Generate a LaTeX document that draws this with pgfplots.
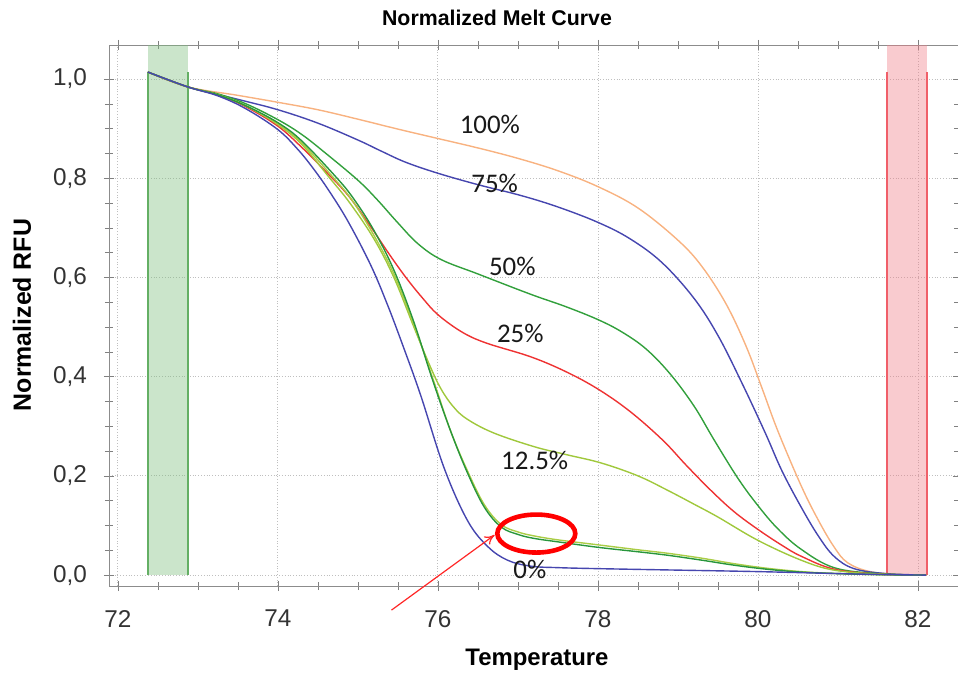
\documentclass[border=0pt]{standalone}
\usepackage{fontspec}
\setmainfont{Liberation Sans}
\newfontfamily\calibri{Carlito}
\usepackage{pgfplots}
\pgfplotsset{compat=1.18}
\usetikzlibrary{arrows.meta}
\definecolor{cpeach}{RGB}{248,178,128}
\definecolor{cblue}{RGB}{70,70,175}
\definecolor{cgreen}{RGB}{50,160,60}
\definecolor{cred}{RGB}{238,50,50}
\definecolor{cyg}{RGB}{160,200,60}
\definecolor{cgreenlow}{RGB}{40,150,60}
\definecolor{cyglow}{RGB}{170,205,70}
\definecolor{bandg}{RGB}{125,190,125}
\definecolor{bandgl}{RGB}{100,175,100}
\definecolor{bandr}{RGB}{240,125,135}
\definecolor{bandrl}{RGB}{240,95,105}
\begin{document}
\begin{tikzpicture}
\begin{axis}[
  width=424.5bp, height=270.5bp, scale only axis,
  xmin=71.89, xmax=82.5, ymin=-0.022, ymax=1.0685,
  xtick={72,74,76,78,80,82}, ytick={0,0.2,0.4,0.6,0.8,1.0},
  minor x tick num=3, minor y tick num=3,
  grid=major, major grid style={densely dotted, black!25},
  axis line style={black!45}, tick style={black!50},
  tick align=center, major tick length=5bp, minor tick length=4bp,
  ticklabel style={font=\fontsize{12.2}{14}\selectfont, text=black!80},
  /pgf/number format/assume math mode=true,
  y tick label style={/pgf/number format/fixed, /pgf/number format/fixed zerofill, /pgf/number format/precision=1, /pgf/number format/use comma, xshift=-5bp},
  x tick label style={yshift=-6bp},
  clip=false,
  every axis plot/.append style={line width=0.7bp},
  curve/.style={smooth, tension=0.6},
]
% bands
\addplot[fill=bandg, fill opacity=0.4, draw=none, sharp plot] coordinates {(72.375,0) (72.375,1.0685) (72.875,1.0685) (72.875,0)} -- cycle;
\addplot[fill=bandr, fill opacity=0.4, draw=none, sharp plot] coordinates {(81.61,0) (81.61,1.0685) (82.11,1.0685) (82.11,0)} -- cycle;
\addplot[bandgl, line width=1bp, sharp plot] coordinates {(72.375,0) (72.375,1.014)};
\addplot[bandgl, line width=1bp, sharp plot] coordinates {(72.875,0) (72.875,1.014)};
\addplot[bandrl, line width=1bp, sharp plot] coordinates {(81.61,0) (81.61,1.014)};
\addplot[bandrl, line width=1bp, sharp plot] coordinates {(82.11,0) (82.11,1.014)};
% 100%
\addplot[cpeach, curve] coordinates {
(72.375,1.014) (72.875,0.984) (73.5,0.967) (74,0.953) (74.5,0.938) (75,0.919)
(75.5,0.899) (76,0.880) (76.5,0.861) (77,0.840) (77.5,0.815) (78,0.783)
(78.5,0.740) (79,0.675) (79.3,0.622) (79.6,0.547) (79.85,0.462) (80.05,0.377)
(80.25,0.29) (80.54,0.18) (80.75,0.112) (80.95,0.057) (81.12,0.025) (81.4,0.007) (81.8,0.001) (82.1,0)};
% 75%
\addplot[cblue, curve] coordinates {
(72.375,1.014) (72.875,0.984) (73.5,0.959) (74,0.938) (74.5,0.911) (75,0.877)
(75.3,0.854) (75.6,0.832) (76,0.810) (76.5,0.787) (77.04,0.765) (77.5,0.742)
(78,0.711) (78.4,0.678) (78.8,0.630) (79.2,0.558) (79.5,0.483) (79.8,0.387)
(80.09,0.287) (80.3,0.21) (80.54,0.137) (80.75,0.08) (80.95,0.038) (81.2,0.013) (81.6,0.003) (82.1,0)};
% 50%
\addplot[cgreen, curve] coordinates {
(72.375,1.014) (72.875,0.984) (73.25,0.970) (73.6,0.950) (74,0.918) (74.3,0.888)
(74.6,0.850) (75,0.796) (75.24,0.757) (75.5,0.710) (75.75,0.668) (76.04,0.636)
(76.5,0.607) (77.16,0.566) (77.6,0.541) (78,0.515) (78.3,0.490) (78.6,0.456)
(78.9,0.406) (79.2,0.341) (79.45,0.273) (79.75,0.195) (80,0.14) (80.25,0.093)
(80.54,0.052) (80.95,0.015) (81.5,0.003) (82.1,0)};
% 25%
\addplot[cred, curve] coordinates {
(72.375,1.014) (72.875,0.984) (73.25,0.968) (73.6,0.944) (74,0.905) (74.3,0.862)
(74.56,0.82) (74.88,0.765) (75.17,0.70) (75.4,0.645) (75.6,0.60) (75.8,0.56)
(76,0.525) (76.3,0.49) (76.6,0.468) (77.16,0.44) (77.6,0.41) (78,0.375)
(78.4,0.33) (78.81,0.272) (79.1,0.222) (79.41,0.171) (79.7,0.128) (80,0.092)
(80.3,0.06) (80.54,0.038) (80.95,0.012) (81.5,0.002) (82.1,0)};
% 12.5%
\addplot[cyg, curve] coordinates {
(72.375,1.014) (72.875,0.984) (73.25,0.968) (73.6,0.946) (74,0.908) (74.3,0.868)
(74.65,0.80) (74.9,0.75) (75.2,0.678) (75.45,0.60) (75.7,0.50) (75.9,0.422)
(76.04,0.375) (76.19,0.34) (76.36,0.315) (76.69,0.287) (77.2,0.259) (77.6,0.243)
(78.04,0.226) (78.5,0.20) (78.87,0.171) (79.2,0.143) (79.5,0.117) (80,0.07)
(80.54,0.03) (80.95,0.01) (81.5,0.002) (82.1,0)};
% low yellow-green
\addplot[cyglow, curve] coordinates {
(72.375,1.014) (72.875,0.984) (73.25,0.968) (73.6,0.946) (74,0.91) (74.3,0.871)
(74.7,0.80) (74.93,0.755) (75.2,0.685) (75.45,0.607) (75.7,0.505) (75.95,0.39)
(76.16,0.29) (76.37,0.21) (76.58,0.142) (76.79,0.102) (77,0.087) (77.2,0.079)
(77.5,0.071) (78,0.061) (78.5,0.051) (78.87,0.044) (79.3,0.034) (79.7,0.023)
(80.1,0.014) (80.54,0.007) (81,0.003) (81.5,0.001) (82.1,0)};
% low green
\addplot[cgreenlow, curve] coordinates {
(72.375,1.014) (72.875,0.984) (73.25,0.968) (73.6,0.946) (74,0.912) (74.3,0.875)
(74.74,0.80) (74.95,0.758) (75.2,0.695) (75.45,0.615) (75.7,0.51) (75.93,0.395)
(76.16,0.29) (76.37,0.206) (76.58,0.137) (76.79,0.097) (77,0.082) (77.2,0.074)
(77.5,0.067) (78,0.056) (78.5,0.047) (78.87,0.040) (79.3,0.030) (79.7,0.020)
(80.1,0.012) (80.54,0.006) (81,0.003) (81.5,0.001) (82.1,0)};
% 0%
\addplot[cblue, curve] coordinates {
(72.375,1.014) (72.875,0.984) (73.25,0.966) (73.6,0.940) (74,0.898) (74.25,0.858)
(74.45,0.818) (74.65,0.772) (74.88,0.712) (75.16,0.625) (75.37,0.545) (75.58,0.455)
(75.79,0.36) (76.08,0.215) (76.37,0.11) (76.62,0.058) (76.87,0.03) (77.16,0.018)
(77.5,0.015) (78,0.013) (79,0.010) (80,0.007) (81,0.003) (81.6,0.001) (82.1,0)};
% labels
\begin{scope}[every node/.style={font=\calibri\fontsize{13.5}{15}\selectfont, text=black!90}]
\node at (axis cs:76.65,0.909) {100\%};
\node at (axis cs:76.71,0.79) {75\%};
\node at (axis cs:76.93,0.623) {50\%};
\node at (axis cs:77.03,0.488) {25\%};
\node at (axis cs:77.21,0.232) {12.5\%};
\node at (axis cs:77.15,0.012) {0\%};
\end{scope}
% annotation
\draw[red, line width=2.3bp] (axis cs:77.23,0.0837) ellipse [x radius=19.5bp, y radius=9.5bp];
\draw[red!85, line width=0.6bp, -{To[length=5bp,width=5bp]}] (axis cs:75.42,-0.0706) -- (axis cs:76.71,0.081);
\end{axis}
\node[font=\bfseries\fontsize{10.7}{12}\selectfont] at (194bp,284bp) {Normalized Melt Curve};
\node[font=\bfseries\fontsize{12}{14}\selectfont] at (214bp,-37bp) {Temperature};
\node[font=\bfseries\fontsize{12.5}{14}\selectfont, rotate=90] at (-43.5bp,135.5bp) {Normalized RFU};
\pgfresetboundingbox
\path[use as bounding box] (-54.5bp,-44.5bp) rectangle (424.5bp,293bp);
\end{tikzpicture}
\end{document}
